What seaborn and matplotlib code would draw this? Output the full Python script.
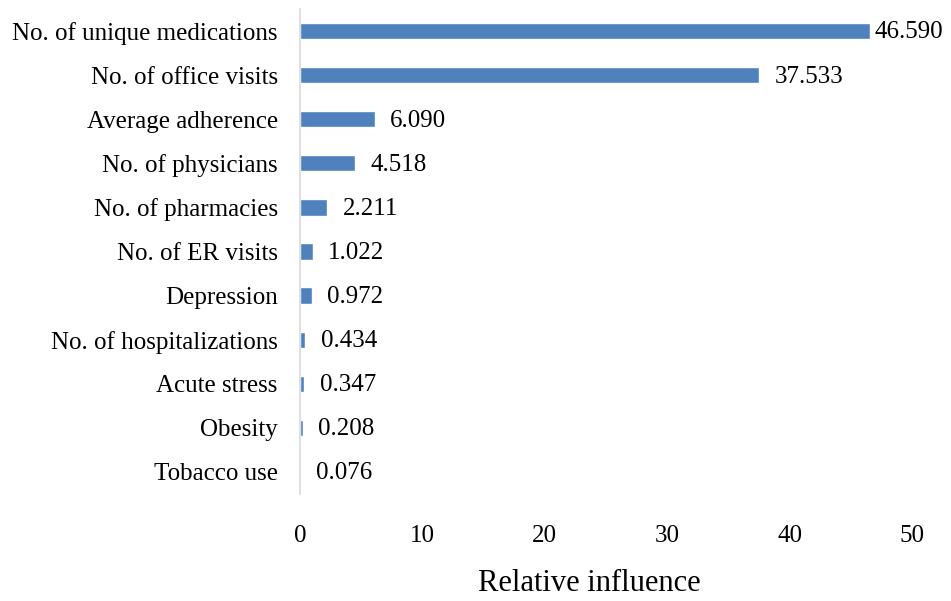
import matplotlib
matplotlib.use("Agg")
import matplotlib.pyplot as plt
import seaborn as sns
import pandas as pd

features = [
    "No. of unique medications",
    "No. of office visits",
    "Average adherence",
    "No. of physicians",
    "No. of pharmacies",
    "No. of ER visits",
    "Depression",
    "No. of hospitalizations",
    "Acute stress",
    "Obesity",
    "Tobacco use",
]
influence = [46.590, 37.533, 6.090, 4.518, 2.211, 1.022, 0.972, 0.434, 0.347, 0.208, 0.076]
x_ticks = [0, 10, 20, 30, 40, 50]

df = pd.DataFrame({"feature": features, "influence": influence})

sns.set_theme(style="white")
plt.rcParams["font.family"] = ["Liberation Serif", "DejaVu Serif"]
plt.rcParams["text.color"] = "black"
plt.rcParams["xtick.color"] = "black"
plt.rcParams["ytick.color"] = "black"
plt.rcParams["axes.labelcolor"] = "black"

fig = plt.figure(figsize=(9.51, 6.01), dpi=100)
ax = fig.add_axes([0.3155, 0.178, 0.6435, 0.807])

sns.barplot(data=df, x="influence", y="feature", color="#4f81bd",
            saturation=1, width=0.37, ax=ax, orient="h")

ax.set_xlim(0, 50)
ax.set_ylim(len(features) - 0.5, -0.5)
ax.set_xticks(x_ticks)
ax.set_xticklabels([str(t) for t in x_ticks], fontsize=18)
ax.tick_params(axis="y", labelsize=18, length=0, pad=16)
ax.tick_params(axis="x", length=0, pad=22)
ax.set_ylabel("")
ax.set_xlabel("Relative influence", fontsize=22, labelpad=20)
ax.xaxis.set_label_coords(0.473, -0.155)

for side in ["top", "right", "bottom"]:
    ax.spines[side].set_visible(False)
ax.spines["left"].set_color("#d9d9d9")
ax.spines["left"].set_linewidth(1.2)

# value labels at the end of each bar
for i, v in enumerate(influence):
    offset = 3 if v > 45 else 11
    ax.annotate(f"{v:.3f}", xy=(v, i), xytext=(offset, -1),
                textcoords="offset points", va="center", ha="left", fontsize=18)

fig.savefig("out.png", dpi=100)
